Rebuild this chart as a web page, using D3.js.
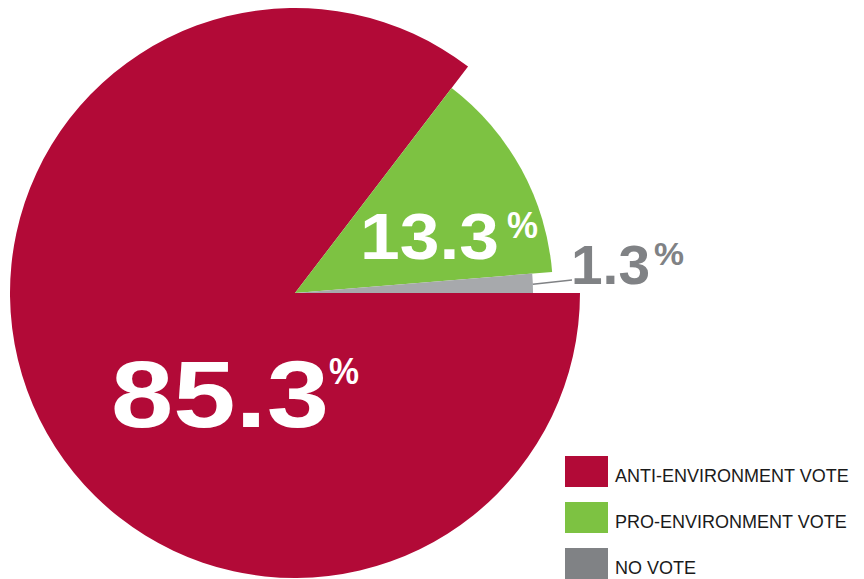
<!DOCTYPE html>
<html><head><meta charset="utf-8">
<script src="https://cdn.jsdelivr.net/npm/d3@7"></script>
<style>
html,body{margin:0;padding:0;background:#fff;}
svg{display:block;}
text{font-family:"Liberation Sans",Arial,Helvetica,sans-serif;}
</style>
</head><body>
<svg id="chart" width="864" height="579"></svg>
<script>
const categories = ["ANTI-ENVIRONMENT VOTE", "PRO-ENVIRONMENT VOTE", "NO VOTE"];
const values = [85.3, 13.3, 1.3];
const valueLabels = ["85.3", "13.3", "1.3"];
const sliceColors = ["#b20a37", "#7dc242", "#a7a9ac"];
const legendColors = ["#b20a37", "#7dc242", "#808285"];

const W = 864, H = 579;
const cx = 295, cy = 293;
const radii = [285, 258, 238];

const svg = d3.select("#chart");
const data = categories.map((c, i) => ({cat: c, value: values[i], label: valueLabels[i], color: sliceColors[i], lcolor: legendColors[i], r: radii[i]}));

const pie = d3.pie().sort(null).value(d => d.value)
  .startAngle(Math.PI / 2).endAngle(Math.PI / 2 + 2 * Math.PI);
const arcs = pie(data);

const g = svg.append("g").attr("transform", `translate(${cx},${cy})`);
g.selectAll("path").data(arcs).join("path")
  .attr("d", d => d3.arc().innerRadius(0).outerRadius(d.data.r)(d))
  .attr("fill", d => d.data.color);

// leader line for small slice
const grayArc = arcs[2];
const midA = (grayArc.startAngle + grayArc.endAngle) / 2;
const p0 = [Math.sin(midA) * grayArc.data.r, -Math.cos(midA) * grayArc.data.r];
g.append("line")
  .attr("x1", p0[0]).attr("y1", p0[1] + 1)
  .attr("x2", 277).attr("y2", -13)
  .attr("stroke", "#808285").attr("stroke-width", 1.6);

// value labels
const labelSpecs = [
  {x: 111, y: 427, size: 95, len: 218, color: "#fff", px: 329, py: 384, psize: 36, plen: 30},
  {x: 360, y: 259, size: 65, len: 139, color: "#fff", px: 507, py: 238, psize: 36, plen: 31},
  {x: 571, y: 284, size: 55, len: 79, color: "#808285", px: 654, py: 265, psize: 32, plen: 30}
];
data.forEach((d, i) => {
  const s = labelSpecs[i];
  svg.append("text")
    .attr("x", s.x).attr("y", s.y)
    .attr("font-size", s.size).attr("font-weight", "bold")
    .attr("fill", s.color)
    .attr("textLength", s.len).attr("lengthAdjust", "spacingAndGlyphs")
    .text(d.label);
  svg.append("text")
    .attr("x", s.px).attr("y", s.py)
    .attr("font-size", s.psize).attr("font-weight", "bold")
    .attr("fill", s.color)
    .attr("textLength", s.plen).attr("lengthAdjust", "spacingAndGlyphs")
    .text("%");
});

// legend
const lg = svg.append("g").attr("transform", "translate(565,456)");
const rows = lg.selectAll("g").data(data).join("g")
  .attr("transform", (d, i) => `translate(0,${i * 46})`);
rows.append("rect").attr("width", 43).attr("height", 31).attr("fill", d => d.lcolor);
rows.append("text").attr("x", 50).attr("y", 26)
  .attr("font-size", 18).attr("fill", "#1a1a1a")
  .text(d => d.cat);
</script>
</body></html>
